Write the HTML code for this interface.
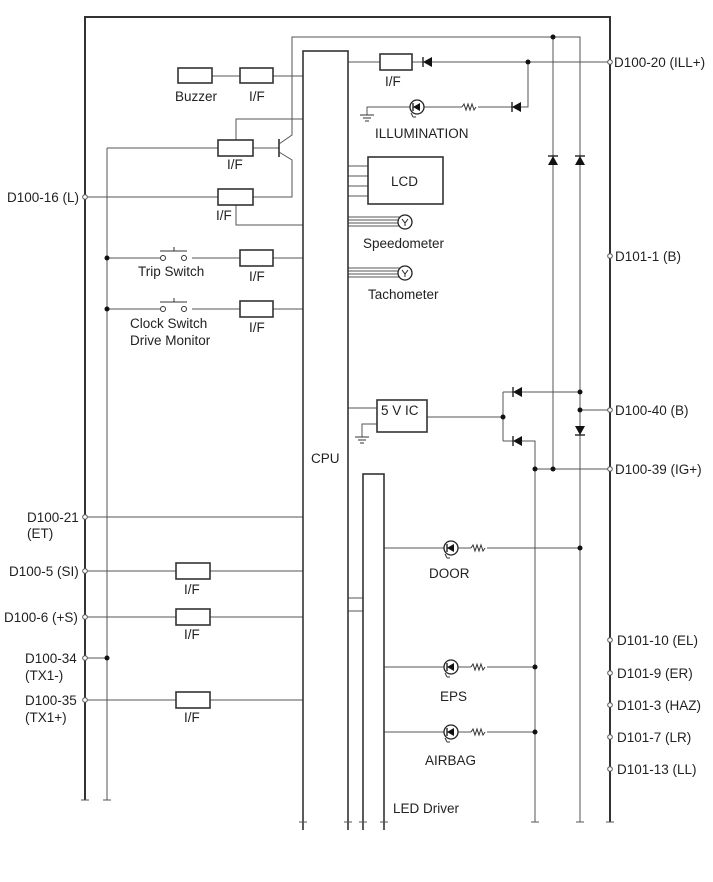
<!DOCTYPE html>
<html><head><meta charset="utf-8"><style>
html,body{margin:0;padding:0;background:#fff}
svg{display:block}
text{font-family:"Liberation Sans",sans-serif;font-size:13.5px;fill:#222}
</style></head><body>
<svg width="713" height="882" viewBox="0 0 713 882" xmlns="http://www.w3.org/2000/svg">
<defs>
<g id="dl"><polygon points="-5,0 4,-5 4,5" fill="#111"/><line x1="-5" y1="-5" x2="-5" y2="5" stroke="#111" stroke-width="1.3"/></g>
<g id="du"><polygon points="0,-5 -5,4 5,4" fill="#111"/><line x1="-5" y1="-5" x2="5" y2="-5" stroke="#111" stroke-width="1.3"/></g>
<g id="dd"><polygon points="0,5 -5,-4 5,-4" fill="#111"/><line x1="-5" y1="5" x2="5" y2="5" stroke="#111" stroke-width="1.3"/></g>
<g id="led"><circle r="7" fill="#fff" stroke="#222" stroke-width="1.3"/><polygon points="-4,0 3,-4 3,4" fill="#111"/><line x1="-4" y1="-4" x2="-4" y2="4" stroke="#111" stroke-width="1.3"/><line x1="-6" y1="6" x2="-4" y2="10" stroke="#333"/><line x1="-4" y1="10" x2="-1" y2="10" stroke="#333"/></g>
<path id="res" d="M0,0 l2,-3 l2,6 l2,-6 l2,6 l2,-6 l2,6 l2,-3" fill="none" stroke="#333" stroke-width="1"/>
<g id="gnd"><line x1="-7" y1="0" x2="7" y2="0" stroke="#333"/><line x1="-4" y1="3" x2="4" y2="3" stroke="#333"/><line x1="-2" y1="6" x2="2" y2="6" stroke="#333"/></g>
<g id="gauge"><circle r="7" fill="#fff" stroke="#222" stroke-width="1.3"/><path d="M-3,-3 L0,1 L3,-3 M0,1 L0,4" fill="none" stroke="#222"/></g>
</defs>

<g fill="none" stroke="#555" stroke-width="1">
<polyline points="292,130 292,37 580,37 580,822"/>
<line x1="553" y1="37" x2="553" y2="469"/>
<line x1="348" y1="62" x2="610" y2="62"/>
<polyline points="528,62 528,107 367,107 367,115"/>
<line x1="212" y1="76" x2="303" y2="76"/>
<line x1="107" y1="148" x2="279" y2="148"/>
<polyline points="236,140 236,119 303,119"/>
<line x1="279" y1="139" x2="279" y2="157" stroke="#222" stroke-width="1.5"/>
<polyline points="279,144 292,135 292,130"/>
<polyline points="279,152 292,160 292,197 85,197"/>
<polyline points="236,205 236,225 303,225"/>
<line x1="348" y1="166" x2="368" y2="166"/><line x1="348" y1="176" x2="368" y2="176"/>
<line x1="348" y1="186" x2="368" y2="186"/><line x1="348" y1="196" x2="368" y2="196"/>
<line x1="348" y1="217" x2="400" y2="217"/><line x1="348" y1="220" x2="400" y2="220"/>
<line x1="348" y1="223" x2="400" y2="223"/><line x1="348" y1="226" x2="400" y2="226"/>
<line x1="348" y1="268" x2="400" y2="268"/><line x1="348" y1="271" x2="400" y2="271"/>
<line x1="348" y1="274" x2="400" y2="274"/><line x1="348" y1="277" x2="400" y2="277"/>
<line x1="107" y1="148" x2="107" y2="800"/>
<line x1="107" y1="258" x2="160" y2="258"/><line x1="192" y1="258" x2="303" y2="258"/>
<line x1="107" y1="309" x2="160" y2="309"/><line x1="192" y1="309" x2="303" y2="309"/>
<line x1="85" y1="517" x2="303" y2="517"/>
<line x1="85" y1="571" x2="303" y2="571"/>
<line x1="85" y1="617" x2="303" y2="617"/>
<line x1="85" y1="658" x2="107" y2="658"/>
<line x1="85" y1="700" x2="303" y2="700"/>
<line x1="348" y1="408" x2="377" y2="408"/>
<polyline points="377,424 362,424 362,437"/>
<line x1="427" y1="417" x2="503" y2="417"/>
<polyline points="503,392 580,392"/>
<line x1="503" y1="392" x2="503" y2="441"/>
<polyline points="503,441 535,441 535,822"/>
<line x1="580" y1="410" x2="610" y2="410"/>
<line x1="535" y1="469" x2="610" y2="469"/>
<line x1="348" y1="598" x2="363" y2="598"/><line x1="348" y1="611" x2="363" y2="611"/>
<line x1="384" y1="548" x2="580" y2="548"/>
<line x1="384" y1="667" x2="535" y2="667"/>
<line x1="384" y1="732" x2="535" y2="732"/>
</g>

<g fill="none" stroke="#333" stroke-width="2">
<polyline points="85,800 85,17 610,17 610,822"/>
</g>
<g fill="#fff" stroke="#333" stroke-width="1.6">
<rect x="303" y="51" width="45" height="780"/>
<rect x="363" y="474" width="21" height="360"/>
<rect x="178" y="68" width="34" height="15"/>
<rect x="240" y="68" width="33" height="15"/>
<rect x="380" y="54" width="32" height="16"/>
<rect x="218" y="140" width="35" height="16"/>
<rect x="218" y="189" width="35" height="16"/>
<rect x="240" y="250" width="33" height="16"/>
<rect x="240" y="301" width="33" height="16"/>
<rect x="368" y="157" width="75" height="47"/>
<rect x="377" y="400" width="50" height="32"/>
<rect x="176" y="563" width="34" height="16"/>
<rect x="176" y="609" width="34" height="16"/>
<rect x="176" y="692" width="34" height="16"/>
</g>
<rect x="0" y="830" width="713" height="52" fill="#fff"/>

<use href="#dl" x="428" y="62"/>
<use href="#dl" x="517" y="107"/>
<use href="#led" x="417" y="107"/>
<rect x="462" y="103" width="16" height="8" fill="#fff"/><use href="#res" x="462" y="107"/>
<use href="#gnd" x="367" y="115"/>
<use href="#gnd" x="362" y="437"/>
<use href="#du" x="553" y="161"/>
<use href="#du" x="580" y="161"/>
<use href="#dd" x="580" y="430"/>
<use href="#dl" x="518" y="392"/>
<use href="#dl" x="518" y="441"/>
<use href="#gauge" x="405" y="222"/>
<use href="#gauge" x="405" y="273"/>
<use href="#led" x="451" y="548"/>
<rect x="471" y="544" width="16" height="8" fill="#fff"/><use href="#res" x="471" y="548"/>
<use href="#led" x="451" y="667"/>
<rect x="471" y="663" width="16" height="8" fill="#fff"/><use href="#res" x="471" y="667"/>
<use href="#led" x="451" y="732"/>
<rect x="471" y="728" width="16" height="8" fill="#fff"/><use href="#res" x="471" y="732"/>

<g fill="#fff" stroke="#333">
<circle cx="163" cy="258" r="2.5"/><circle cx="184" cy="258" r="2.5"/>
<line x1="160" y1="251" x2="187" y2="251"/><line x1="174" y1="247" x2="174" y2="251"/>
<circle cx="163" cy="309" r="2.5"/><circle cx="184" cy="309" r="2.5"/>
<line x1="160" y1="302" x2="187" y2="302"/><line x1="174" y1="298" x2="174" y2="302"/>
</g>

<g fill="#111">
<circle cx="553" cy="37" r="2.5"/><circle cx="528" cy="62" r="2.5"/>
<circle cx="107" cy="258" r="2.5"/><circle cx="107" cy="309" r="2.5"/><circle cx="107" cy="658" r="2.5"/>
<circle cx="503" cy="417" r="2.5"/><circle cx="580" cy="392" r="2.5"/><circle cx="580" cy="410" r="2.5"/>
<circle cx="535" cy="469" r="2.5"/><circle cx="553" cy="469" r="2.5"/>
<circle cx="580" cy="548" r="2.5"/><circle cx="535" cy="667" r="2.5"/><circle cx="535" cy="732" r="2.5"/>
</g>
<g fill="#fff" stroke="#555">
<circle cx="610" cy="62" r="2.3"/><circle cx="610" cy="256" r="2.3"/><circle cx="610" cy="410" r="2.3"/>
<circle cx="610" cy="469" r="2.3"/><circle cx="610" cy="640" r="2.3"/><circle cx="610" cy="673" r="2.3"/>
<circle cx="610" cy="705" r="2.3"/><circle cx="610" cy="737" r="2.3"/><circle cx="610" cy="769" r="2.3"/>
<circle cx="85" cy="197" r="2.3"/><circle cx="85" cy="517" r="2.3"/><circle cx="85" cy="571" r="2.3"/>
<circle cx="85" cy="617" r="2.3"/><circle cx="85" cy="658" r="2.3"/><circle cx="85" cy="700" r="2.3"/>
</g>
<g stroke="#555" fill="none">
<path d="M81,800 h8 M103,800 h8 M299,822 h8 M344,822 h8 M359,822 h8 M380,822 h8 M531,822 h8 M576,822 h8 M606,822 h8"/>
</g>

<text x="175" y="101">Buzzer</text>
<text x="249" y="101">I/F</text>
<text x="385" y="86">I/F</text>
<text x="375" y="138">ILLUMINATION</text>
<text x="227" y="169">I/F</text>
<text x="216" y="220">I/F</text>
<text x="391" y="186" font-size="14.5">LCD</text>
<text x="363" y="248">Speedometer</text>
<text x="368" y="299">Tachometer</text>
<text x="138" y="276">Trip Switch</text>
<text x="249" y="281">I/F</text>
<text x="130" y="328">Clock Switch</text>
<text x="130" y="345">Drive Monitor</text>
<text x="249" y="332">I/F</text>
<text x="381" y="415" font-size="14.5">5 V IC</text>
<text x="311" y="463">CPU</text>
<text x="429" y="578">DOOR</text>
<text x="440" y="701">EPS</text>
<text x="425" y="765">AIRBAG</text>
<text x="393" y="813">LED Driver</text>
<text x="184" y="594">I/F</text>
<text x="184" y="639">I/F</text>
<text x="184" y="722">I/F</text>
<text x="7" y="202">D100-16 (L)</text>
<text x="27" y="522">D100-21</text>
<text x="27" y="538">(ET)</text>
<text x="9" y="576">D100-5 (SI)</text>
<text x="4" y="622">D100-6 (+S)</text>
<text x="25" y="663">D100-34</text>
<text x="25" y="680">(TX1-)</text>
<text x="25" y="705">D100-35</text>
<text x="25" y="722">(TX1+)</text>
<text x="614" y="67">D100-20 (ILL+)</text>
<text x="615" y="261">D101-1 (B)</text>
<text x="615" y="415">D100-40 (B)</text>
<text x="615" y="474">D100-39 (IG+)</text>
<text x="617" y="645">D101-10 (EL)</text>
<text x="617" y="678">D101-9 (ER)</text>
<text x="617" y="710">D101-3 (HAZ)</text>
<text x="617" y="742">D101-7 (LR)</text>
<text x="617" y="774">D101-13 (LL)</text>
</svg>
</body></html>
